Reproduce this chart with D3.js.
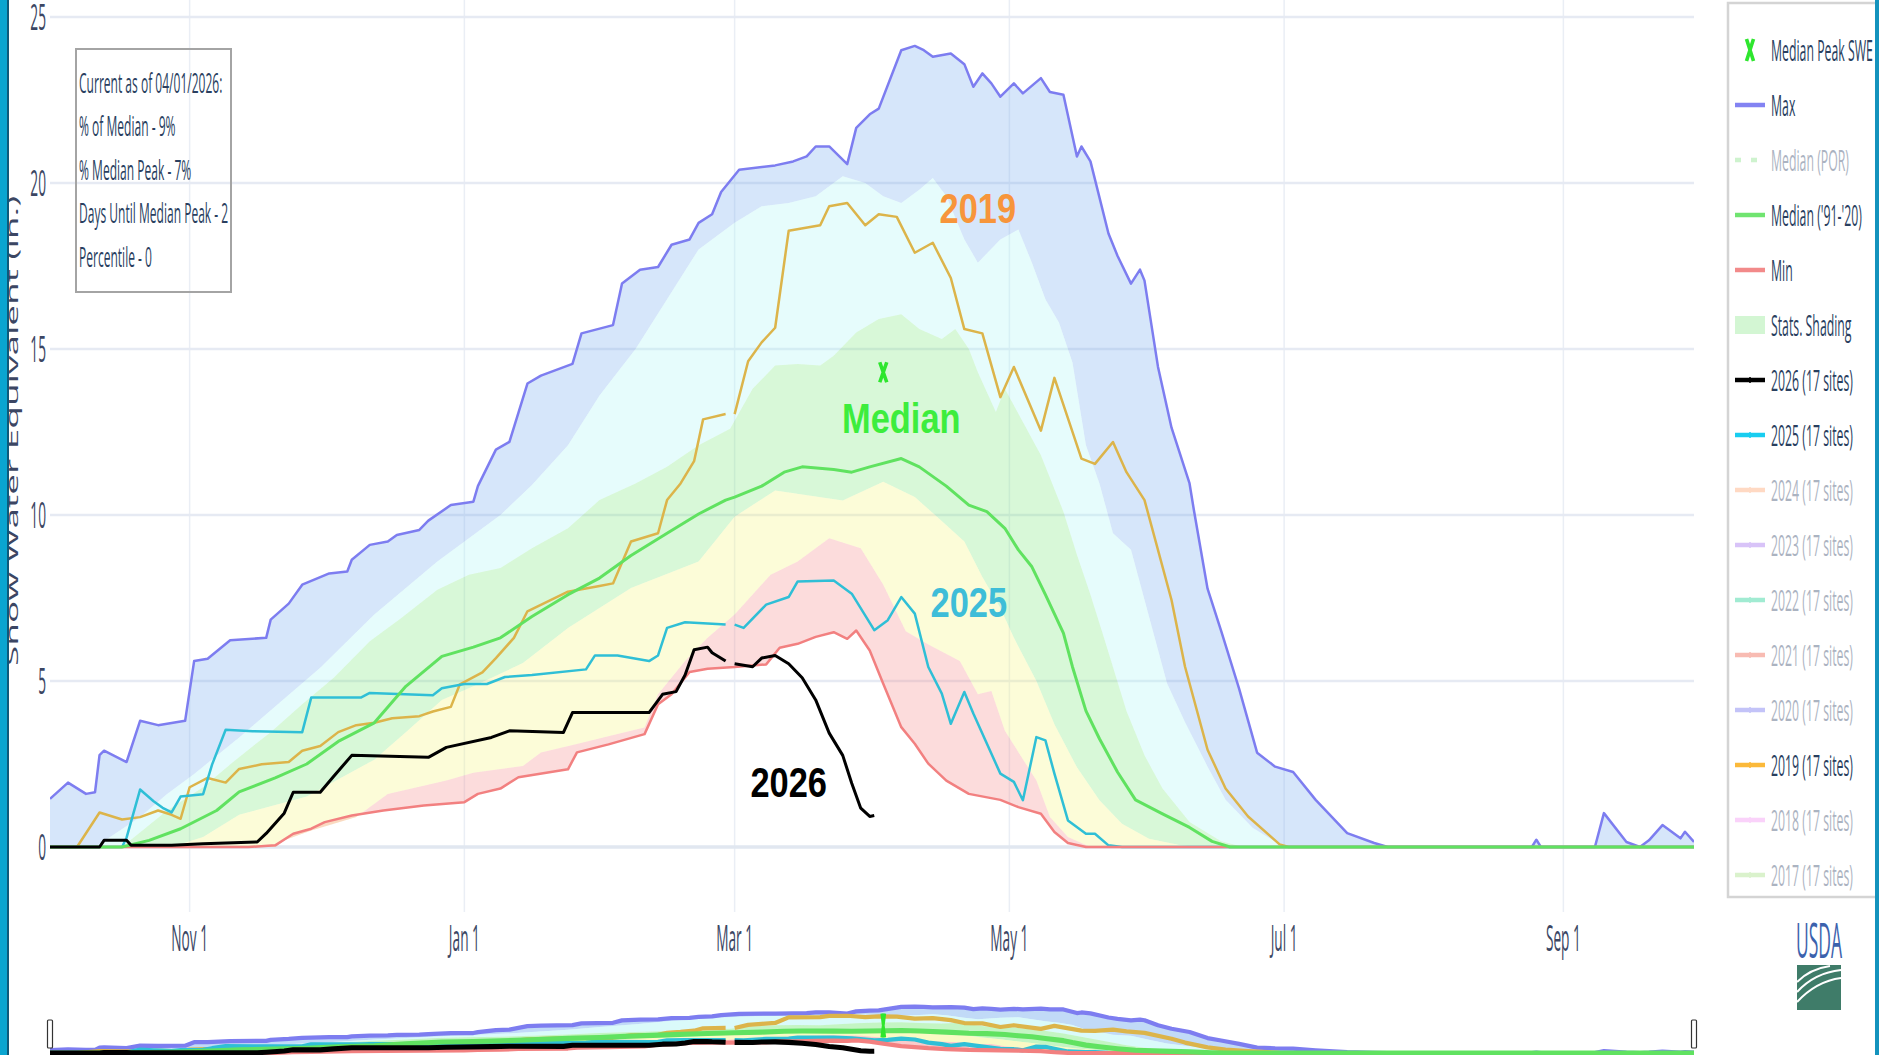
<!DOCTYPE html>
<html>
<head>
<meta charset="utf-8">
<script src="https://cdn.jsdelivr.net/npm/d3@7"></script>
<style>
  html, body { margin: 0; padding: 0; background: #fff; }
  svg { display: block; font-family: "Open Sans", sans-serif; }
</style>
</head>
<body>
<svg id="chart" width="1879" height="1055"></svg>
<script>
// ---- data (water year, MM-DD, inches SWE) ----
const maxSwe = [["10-01",1.45],["10-05",1.94],["10-09",1.6],["10-11",1.65],["10-12",2.77],["10-13",2.9],["10-18",2.56],["10-21",3.8],["10-25",3.67],["10-31",3.8],["11-02",5.6],["11-05",5.67],["11-10",6.23],["11-18",6.3],["11-19",6.85],["11-23",7.33],["11-26",7.9],["12-02",8.24],["12-06",8.3],["12-07",8.65],["12-11",9.1],["12-15",9.2],["12-17",9.4],["12-22",9.55],["12-24",9.83],["12-29",10.3],["01-03",10.4],["01-04",10.87],["01-08",11.97],["01-11",12.2],["01-15",13.96],["01-18",14.2],["01-25",14.55],["01-27",15.47],["02-03",15.72],["02-05",16.97],["02-09",17.39],["02-13",17.47],["02-16",18.14],["02-20",18.3],["02-22",18.8],["02-25",19.06],["02-27",19.73],["03-02",20.4],["03-10",20.53],["03-14",20.65],["03-17",20.8],["03-19",21.1],["03-22",21.1],["03-26",20.57],["03-28",21.66],["03-31",22.07],["04-02",22.24],["04-07",24.0],["04-10",24.13],["04-12",24.0],["04-14",23.8],["04-18",23.9],["04-21",23.58],["04-23",22.9],["04-25",23.3],["04-27",23.0],["04-29",22.6],["05-02",23.0],["05-04",22.7],["05-08",23.16],["05-10",22.74],["05-13",22.66],["05-16",20.8],["05-17",21.1],["05-19",20.65],["05-23",18.48],["05-25",17.81],["05-28",16.97],["05-30",17.39],["05-31",17.06],["06-03",14.46],["06-06",12.63],["06-10",10.95],["06-11",10.12],["06-14",7.78],["06-17",6.52],["06-21",4.77],["06-25",2.84],["06-29",2.42],["07-03",2.26],["07-08",1.42],["07-15",0.42],["07-21",0.12],["07-24",0],["08-25",0],["08-26",0.22],["08-27",0],["09-08",0],["09-10",1.02],["09-15",0.15],["09-18",0],["09-20",0.2],["09-23",0.66],["09-27",0.26],["09-28",0.46],["09-30",0.15]];

const p90 = [["10-01",0],["10-11",0],["10-21",0.9],["10-27",1.6],["11-02",2.2],["11-12",3.3],["11-18",4.0],["11-30",5.4],["12-12",7.0],["12-26",8.6],["01-09",10.0],["01-16",10.9],["01-24",12.1],["01-31",13.6],["02-08",15.0],["02-15",16.5],["02-22",18.0],["03-01",18.8],["03-07",19.3],["03-13",19.4],["03-19",19.6],["03-25",20.2],["03-30",20.0],["04-03",19.6],["04-07",19.4],["04-11",19.8],["04-14",20.15],["04-17",19.6],["04-21",18.3],["04-24",17.6],["04-29",18.3],["05-03",18.6],["05-06",17.6],["05-09",16.5],["05-12",15.8],["05-15",14.6],["05-18",12.1],["05-21",10.95],["05-24",9.45],["05-28",8.95],["06-01",6.94],["06-05",4.93],["06-09",3.76],["06-14",2.42],["06-18",1.42],["06-24",0.58],["06-30",0.08],["07-03",0],["09-30",0]];

const p70 = [["10-01",0],["10-17",0],["10-27",1.1],["11-04",1.8],["11-11",2.6],["11-19",3.46],["11-26",4.3],["12-03",5.1],["12-11",6.2],["12-18",6.9],["12-26",7.75],["01-02",8.2],["01-09",8.4],["01-16",9.0],["01-24",9.6],["01-31",10.45],["02-08",10.95],["02-15",11.45],["02-22",12.1],["02-29",12.6],["03-05",13.8],["03-10",14.5],["03-15",14.55],["03-20",14.5],["03-23",14.8],["03-28",15.5],["04-02",15.9],["04-07",16.05],["04-11",15.6],["04-16",15.3],["04-19",15.6],["04-22",15.0],["04-24",14.3],["04-28",13.1],["04-30",13.8],["05-04",12.8],["05-08",11.8],["05-13",10.1],["05-16",8.8],["05-19",7.6],["05-22",6.3],["05-27",4.1],["05-31",2.76],["06-04",1.76],["06-10",0.75],["06-17",0.17],["06-22",0],["09-30",0]];

const medianSwe = [["10-01",0],["10-17",0],["10-23",0.2],["10-30",0.55],["11-07",1.1],["11-12",1.66],["11-20",2.08],["11-27",2.5],["12-04",3.18],["12-12",3.74],["12-19",4.84],["12-27",5.74],["01-03",6.02],["01-09",6.3],["01-16",6.94],["01-24",7.6],["01-31",8.1],["02-07",8.78],["02-15",9.45],["02-22",10.03],["02-28",10.45],["03-01",10.54],["03-07",10.87],["03-12",11.29],["03-16",11.45],["03-23",11.37],["03-27",11.29],["03-31",11.45],["04-07",11.7],["04-11",11.45],["04-17",10.87],["04-22",10.3],["04-26",10.1],["04-30",9.6],["05-03",8.95],["05-06",8.44],["05-09",7.6],["05-13",6.44],["05-15",5.43],["05-18",4.1],["05-21",3.26],["05-25",2.26],["05-29",1.42],["06-04",1.0],["06-10",0.59],["06-15",0.17],["06-19",0],["09-30",0]];

const p30 = [["10-01",0],["10-28",0],["11-04",0.3],["11-12",0.97],["11-27",1.52],["12-12",2.63],["12-19",3.46],["12-27",4.43],["01-03",4.84],["01-14",5.54],["01-24",6.6],["02-07",7.8],["02-22",8.6],["03-01",9.95],["03-10",10.74],["03-25",10.44],["04-03",11.0],["04-10",10.54],["04-15",9.94],["04-21",9.2],["04-25",8.13],["04-29",7.2],["05-02",6.3],["05-07",5.0],["05-11",3.7],["05-16",2.4],["05-21",1.41],["05-26",0.7],["06-01",0.25],["06-08",0.05],["06-12",0],["09-30",0]];

const p10 = [["10-01",0],["11-20",0],["11-22",0.2],["11-28",0.5],["12-08",0.9],["12-15",1.6],["12-28",2.0],["01-03",2.24],["01-14",2.44],["01-18",2.85],["01-26",3.1],["02-04",3.4],["02-10",3.6],["02-13",4.6],["02-19",5.6],["02-24",6.3],["03-01",7.0],["03-09",8.2],["03-15",8.6],["03-22",9.3],["03-29",9.0],["04-03",7.9],["04-08",6.5],["04-13",6.1],["04-20",5.6],["04-24",4.6],["04-27",4.7],["04-30",3.5],["05-07",2.0],["05-10",0.9],["05-14",0.3],["05-19",0],["09-30",0]];

const minSwe = [["10-01",0],["11-14",0],["11-20",0.05],["11-24",0.4],["11-28",0.55],["12-01",0.75],["12-07",0.95],["12-14",1.1],["12-23",1.25],["01-01",1.35],["01-04",1.6],["01-09",1.76],["01-13",2.1],["01-24",2.34],["01-26",2.85],["02-02",3.09],["02-10",3.4],["02-13",4.3],["02-16",4.6],["02-20",5.27],["02-24",5.37],["03-01",5.42],["03-08",5.5],["03-11",6.0],["03-15",6.12],["03-19",6.33],["03-23",6.47],["03-26",6.27],["03-28",6.52],["03-31",5.92],["04-03",4.92],["04-07",3.61],["04-10",3.11],["04-13",2.51],["04-17",2.0],["04-22",1.6],["04-29",1.42],["05-03",1.2],["05-08",1.0],["05-11",0.45],["05-14",0.12],["05-18",0],["09-30",0]];

const wy2019 = [["10-01",0],["10-07",0],["10-12",1.04],["10-17",0.83],["10-21",0.9],["10-25",1.1],["10-28",0.97],["10-30",0.85],["11-01",1.8],["11-05",2.08],["11-09",1.94],["11-12",2.35],["11-17",2.49],["11-23",2.56],["11-26",2.9],["11-30",3.04],["12-04",3.46],["12-08",3.67],["12-12",3.74],["12-16",3.88],["12-22",3.94],["12-25",4.08],["12-29",4.22],["12-31",4.9],["01-05",5.26],["01-08",5.69],["01-12",6.3],["01-15",7.1],["01-24",7.69],["01-31",7.86],["02-03",7.94],["02-07",9.2],["02-13",9.45],["02-15",10.45],["02-18",10.95],["02-21",11.62],["02-23",12.88],["02-28",13.04],["02-29",null],["03-01",13.04],["03-04",14.63],["03-07",15.2],["03-10",15.64],["03-13",18.56],["03-20",18.73],["03-22",19.3],["03-26",19.4],["03-30",18.73],["04-02",19.06],["04-06",18.98],["04-10",17.9],["04-14",18.2],["04-18",17.14],["04-21",15.6],["04-25",15.47],["04-29",13.55],["05-02",14.46],["05-08",12.54],["05-11",14.13],["05-17",11.7],["05-20",11.54],["05-24",12.2],["05-27",11.29],["05-31",10.45],["06-06",7.44],["06-09",5.43],["06-14",2.93],["06-18",1.76],["06-23",0.92],["06-30",0.08],["07-02",0],["09-30",0]];

const wy2025 = [["10-01",0],["10-17",0],["10-18",0.28],["10-21",1.73],["10-24",1.38],["10-26",1.18],["10-28",1.04],["10-30",1.52],["11-04",1.59],["11-06",2.49],["11-09",3.53],["11-15",3.49],["11-26",3.46],["11-28",4.5],["12-09",4.5],["12-11",4.64],["12-25",4.57],["12-27",4.78],["01-01",4.91],["01-06",4.91],["01-10",5.12],["01-16",5.18],["01-28",5.35],["01-30",5.77],["02-04",5.77],["02-11",5.6],["02-13",5.77],["02-15",6.6],["02-19",6.77],["02-28",6.7],["02-29",null],["03-01",6.7],["03-03",6.6],["03-08",7.3],["03-13",7.53],["03-15",8.0],["03-23",8.03],["03-27",7.63],["04-01",6.53],["04-04",6.83],["04-07",7.53],["04-10",7.03],["04-13",5.42],["04-16",4.62],["04-18",3.71],["04-21",4.67],["04-23",4.02],["04-29",2.21],["05-02",1.96],["05-04",1.41],["05-07",3.31],["05-09",3.21],["05-11",2.21],["05-14",0.8],["05-18",0.4],["05-20",0.4],["05-23",0.05],["05-26",0],["09-30",0]];

const wy2026 = [["10-01",0],["10-12",0],["10-13",0.2],["10-18",0.2],["10-19",0.05],["10-28",0.05],["11-04",0.1],["11-16",0.15],["11-18",0.41],["11-22",1.02],["11-24",1.65],["11-30",1.65],["12-03",2.13],["12-07",2.76],["12-24",2.7],["12-28",3.0],["01-07",3.3],["01-11",3.5],["01-23",3.45],["01-25",4.05],["02-11",4.05],["02-14",4.6],["02-17",4.68],["02-19",5.18],["02-21",5.94],["02-24",6.02],["02-25",5.85],["02-28",5.6],["02-29",null],["03-01",5.52],["03-05",5.43],["03-07",5.69],["03-10",5.77],["03-13",5.52],["03-16",5.1],["03-19",4.43],["03-22",3.43],["03-25",2.76],["03-27",1.92],["03-29",1.17],["03-31",0.92],["04-01",0.95]];

const medianPeak = ["04-03", 14.3];

const yTicks = [0, 5, 10, 15, 20, 25];

const infoLines = ["Current as of 04/01/2026:", "% of Median - 9%", "% Median Peak - 7%", "Days Until Median Peak - 2", "Percentile - 0"];

const labels = [["2019", "04-24", 18.8], ["Median", "04-07", 12.47], ["2025", "04-22", 6.93], ["2026", "03-13", 1.5]];

const legendNames = ["Median Peak SWE", "Max", "Median (POR)", "Median ('91-'20)", "Min", "Stats. Shading",
  "2026 (17 sites)", "2025 (17 sites)", "2024 (17 sites)", "2023 (17 sites)", "2022 (17 sites)", "2021 (17 sites)",
  "2020 (17 sites)", "2019 (17 sites)", "2018 (17 sites)", "2017 (17 sites)"];
const legendOn = [true, true, false, true, true, true, true, true, false, false, false, false, false, true, false, false];

// ---- helpers ----
const parseMD = md => {
  const [m, d] = md.split("-").map(Number);
  // leap-year water year so Feb 29 exists on the axis
  return new Date(m >= 10 ? 2023 : 2024, m - 1, d);
};
const toPts = arr => arr.map(([md, v]) => ({ date: parseMD(md), v: v }));

const svg = d3.select("#chart");
const x = d3.scaleTime().domain([new Date(2023, 9, 1), new Date(2024, 8, 30)]).range([50, 1694]);
const y = d3.scaleLinear().domain([0, 25]).range([847, 17]);
const yMini = d3.scaleLinear().domain([0, 25]).range([1053, 1005]);

function squeezed(g, str, x0, y0, size, sx, anchor, fill) {
  return g.append("text")
    .attr("transform", `translate(${x0},${y0}) scale(${sx},1)`)
    .attr("font-size", size)
    .attr("text-anchor", anchor || "start")
    .attr("fill", fill || "#2a3f5f")
    .text(str);
}

const defs = svg.append("defs");
defs.append("clipPath").attr("id", "plotClip")
  .append("rect").attr("x", 50).attr("y", 0).attr("width", 1644).attr("height", 912);
defs.append("clipPath").attr("id", "miniClip")
  .append("rect").attr("x", 50).attr("y", 1000).attr("width", 1644).attr("height", 55);

// ---- grid ----
const grid = svg.append("g");
grid.selectAll("line.v").data(x.ticks(d3.timeMonth.every(2))).join("line")
  .attr("class", "v")
  .attr("x1", d => x(d)).attr("x2", d => x(d))
  .attr("y1", 0).attr("y2", 912)
  .attr("stroke", "#eaeef5").attr("stroke-width", 1.5);
grid.selectAll("line.h").data(yTicks).join("line")
  .attr("class", "h")
  .attr("x1", 50).attr("x2", 1694)
  .attr("y1", d => y(d)).attr("y2", d => y(d))
  .attr("stroke", d => d === 0 ? "#e1e7f0" : "#e6eaf3")
  .attr("stroke-width", d => d === 0 ? 3.5 : 2.5);

// ---- bands and lines ----
const bands = [
  [maxSwe, p90, "rgb(118,172,238)"],
  [p90, p70, "rgb(172,245,245)"],
  [p70, p30, "rgb(125,232,125)"],
  [p30, p10, "rgb(245,245,125)"],
  [p10, minSwe, "rgb(245,138,138)"]
];
const lines = [
  [maxSwe, "#7d7df0", 2.5],
  [wy2019, "#dcb44a", 2.5],
  [wy2025, "#2fbfd6", 2.5],
  [minSwe, "#f28080", 2.5],
  [medianSwe, "#60e260", 3],
  [wy2026, "#000000", 3]
];

function drawSeries(g, ys, lw, fillOp) {
  const poly = d3.line().x(d => x(d.date)).y(d => ys(d.v));
  bands.forEach(([hi, lo, col]) => {
    const pts = toPts(hi).concat(toPts(lo).reverse());
    g.append("path").attr("d", poly(pts) + "Z")
      .attr("fill", col).attr("fill-opacity", fillOp).attr("stroke", "none");
  });
  const ln = d3.line().defined(d => d.v != null).x(d => x(d.date)).y(d => ys(d.v));
  lines.forEach(([arr, col, w]) => {
    g.append("path").attr("d", ln(toPts(arr)))
      .attr("fill", "none").attr("stroke", col).attr("stroke-width", w * lw)
      .attr("stroke-linejoin", "round");
  });
}

const plot = svg.append("g").attr("clip-path", "url(#plotClip)");
drawSeries(plot, y, 1, 0.3);

// median peak marker
function xMark(g, cx, cy, w, h, sw) {
  g.append("path")
    .attr("d", `M${cx - w},${cy - h}L${cx + w},${cy + h}M${cx + w},${cy - h}L${cx - w},${cy + h}`)
    .attr("stroke", "#2ee62e").attr("stroke-width", sw).attr("fill", "none");
}
xMark(plot, x(parseMD(medianPeak[0])), y(medianPeak[1]), 3.5, 10, 3.6);

// ---- annotations ----
const labelColors = { "2019": "#f7953b", "Median": "#3ded3d", "2025": "#3ebdd8", "2026": "#000" };
labels.forEach(([t, md, v]) => {
  svg.append("text")
    .attr("transform", `translate(${x(parseMD(md))},${y(v)}) scale(0.82,1)`)
    .attr("text-anchor", "middle")
    .attr("font-family", "'Liberation Sans', Arial, sans-serif")
    .attr("font-weight", "bold")
    .attr("font-size", 42)
    .attr("fill", labelColors[t])
    .text(t);
});

// ---- axes labels ----
yTicks.forEach(t => squeezed(svg, t, 46, y(t) + 12.8, 36, 0.38, "end", "#3b4663"));
x.ticks(d3.timeMonth.every(2)).forEach(d =>
  squeezed(svg, d3.timeFormat("%b %-d")(d), x(d), 951, 36, 0.38, "middle", "#3b4663"));

svg.append("text")
  .attr("transform", "translate(18,431) scale(0.42,1) rotate(-90)")
  .attr("text-anchor", "middle").attr("font-size", 37).attr("fill", "#3b4663")
  .text("Snow Water Equivalent (in.)");

// ---- info box ----
svg.append("rect").attr("x", 76).attr("y", 49).attr("width", 155).attr("height", 243)
  .attr("fill", "none").attr("stroke", "#a4a4a4").attr("stroke-width", 2);
infoLines.forEach((t, i) => squeezed(svg, t, 79, 93 + i * 43.4, 28, 0.43, "start", "#2a3f5f"));

// ---- legend ----
const leg = svg.append("g");
leg.append("rect").attr("x", 1728).attr("y", 3).attr("width", 160).attr("height", 894)
  .attr("fill", "#fff").attr("stroke", "#d4d4d4").attr("stroke-width", 2.5);
const legSym = [
  { kind: "x", color: "#2ee62e" },
  { kind: "line", color: "#8383f2" },
  { kind: "dash", color: "#9ee89e" },
  { kind: "line", color: "#70e470" },
  { kind: "line", color: "#f28a8a" },
  { kind: "rect", color: "#d3f6d3" },
  { kind: "mark", color: "#000" },
  { kind: "mark", color: "#18cdf0" },
  { kind: "mark", color: "#ffb488" },
  { kind: "mark", color: "#b388f2" },
  { kind: "mark", color: "#46d8a6" },
  { kind: "mark", color: "#f27a68" },
  { kind: "mark", color: "#8888f2" },
  { kind: "mark", color: "#fbb93a" },
  { kind: "mark", color: "#f6a6f6" },
  { kind: "mark", color: "#b6e69a" }
];
legendNames.forEach((name, i) => {
  const cy = 50 + i * 55;
  const g = leg.append("g").attr("opacity", legendOn[i] ? 1 : 0.5);
  const s = legSym[i];
  if (s.kind === "x") {
    xMark(g, 1750, cy, 3.5, 11, 3.6);
  } else if (s.kind === "rect") {
    g.append("rect").attr("x", 1735).attr("y", cy - 9).attr("width", 30).attr("height", 18).attr("fill", s.color);
  } else {
    g.append("line").attr("x1", 1735).attr("x2", 1765).attr("y1", cy).attr("y2", cy)
      .attr("stroke", s.color).attr("stroke-width", 4.5)
      .attr("stroke-dasharray", s.kind === "dash" ? "6,10" : null);
    if (s.kind === "mark") {
      g.append("line").attr("x1", 1750).attr("x2", 1750).attr("y1", cy - 3).attr("y2", cy + 3)
        .attr("stroke", s.color).attr("stroke-width", 1.5);
    }
  }
  squeezed(g, name, 1771, cy + 10.7, 30, 0.41, "start", legendOn[i] ? "#2a3f5f" : "#5a6a85");
});

// ---- range slider ----
const mini = svg.append("g").attr("clip-path", "url(#miniClip)");
drawSeries(mini, yMini, 1.7, 0.45);
xMark(mini, x(parseMD(medianPeak[0])), yMini(medianPeak[1]), 1.5, 12, 2.8);
x.domain().forEach(d => {
  svg.append("rect").attr("x", x(d) - 2.5).attr("y", 1020).attr("width", 5).attr("height", 28)
    .attr("rx", 1).attr("fill", "#fff").attr("stroke", "#333").attr("stroke-width", 1.2);
});

// ---- USDA mark ----
squeezed(svg, "USDA", 1819, 958, 50, 0.35, "middle", "#3b62ad");
svg.append("rect").attr("x", 1797).attr("y", 965).attr("width", 44).attr("height", 45).attr("fill", "#3f7c69");
["M1797,992 C1808,980 1822,972 1841,970", "M1797,1002 C1810,988 1826,980 1841,978", "M1797,982 C1806,973 1816,968 1830,966"]
  .forEach(p => svg.append("path").attr("d", p).attr("fill", "none").attr("stroke", "#fff").attr("stroke-width", 2));

// ---- frame bars ----
svg.append("rect").attr("x", 0).attr("y", 0).attr("width", 7).attr("height", 1055).attr("fill", "#0aa5d0");
svg.append("rect").attr("x", 7).attr("y", 0).attr("width", 2).attr("height", 1055).attr("fill", "#0e5a7a");
svg.append("rect").attr("x", 1875).attr("y", 0).attr("width", 4).attr("height", 1055).attr("fill", "#1493bd");
</script>
</body>
</html>
